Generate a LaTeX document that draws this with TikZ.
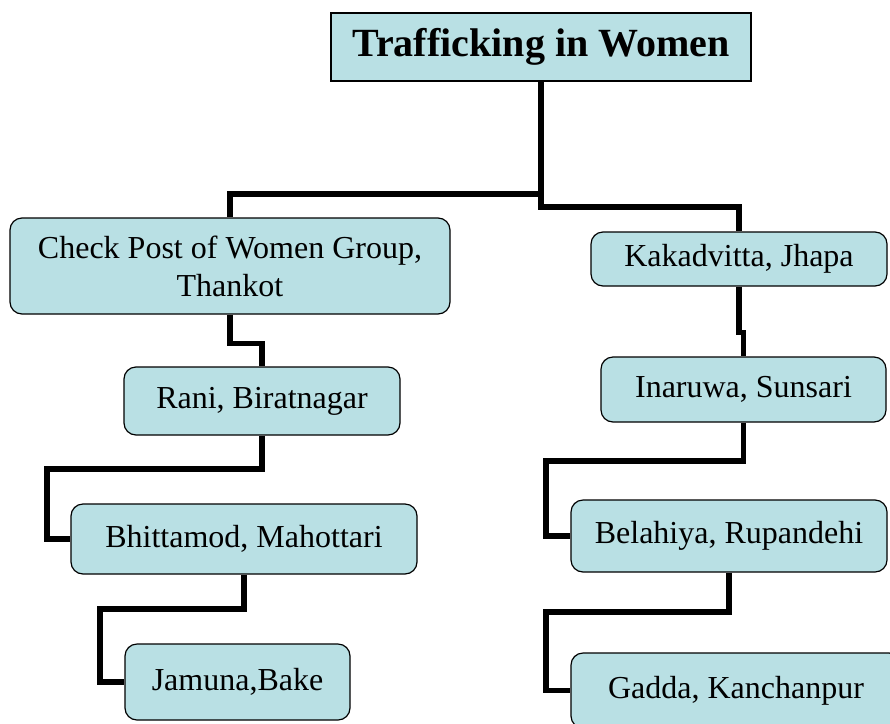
\documentclass[tikz,border=0pt]{standalone}
\usepackage{fontspec}
\setmainfont{Liberation Serif}
\definecolor{boxblue}{RGB}{185,224,228}

\begin{document}
\begin{tikzpicture}[x=1pt, y=-1pt,
    town/.style={draw, line width=1.2pt, fill=boxblue, rounded corners=12pt,
      inner sep=0pt, font=\fontsize{32}{38}\selectfont},
    link/.style={line width=5.5pt}]
  \useasboundingbox (0,0) rectangle (890,723);
  \clip (0,0) rectangle (890,723);
  % Title
  \node[draw, line width=1.2pt, fill=boxblue, minimum width=420pt, minimum height=68pt,
    inner sep=0pt, font=\fontsize{40}{48}\selectfont\bfseries] (title) at (541,47) {Trafficking in Women};
  % Left column
  \node[town, minimum width=440pt, minimum height=96pt, align=center] (check) at (230,266)
    {Check Post of Women Group,\\Thankot};
  \node[town, minimum width=276pt, minimum height=68pt] (rani) at (262,401) {Rani, Biratnagar};
  \node[town, minimum width=346pt, minimum height=70pt] (bhit) at (244,539) {Bhittamod, Mahottari};
  \node[town, minimum width=225pt, minimum height=76pt] (jamuna) at (237.5,682) {Jamuna,Bake};
  % Right column
  \node[town, minimum width=296pt, minimum height=54pt] (kaka) at (739,259) {Kakadvitta, Jhapa};
  \node[town, minimum width=285pt, minimum height=65pt] (inar) at (743.5,389.5) {Inaruwa, Sunsari};
  \node[town, minimum width=316pt, minimum height=72pt] (bela) at (729,536) {Belahiya, Rupandehi};
  \node[town, minimum width=330pt, minimum height=75pt] (gadda) at (736,690.5) {Gadda, Kanchanpur};
  % Links
  \draw[link] (title.south) |- (230,194) -- (check.north);
  \draw[link] (title.south) |- (739,207) -- (kaka.north);
  \draw[link] (check.south) -- ++(0,29) -| (rani.north);
  \draw[link] (rani.south) |- (47,469) |- (bhit.west);
  \draw[link] (bhit.south) |- (100,609) |- (jamuna.west);
  \draw[link] (kaka.south) -- ++(0,46) -| (inar.north);
  \draw[link] (inar.south) |- (546,461) |- (bela.west);
  \draw[link] (bela.south) |- (546,612) |- (gadda.west);
\end{tikzpicture}
\end{document}
